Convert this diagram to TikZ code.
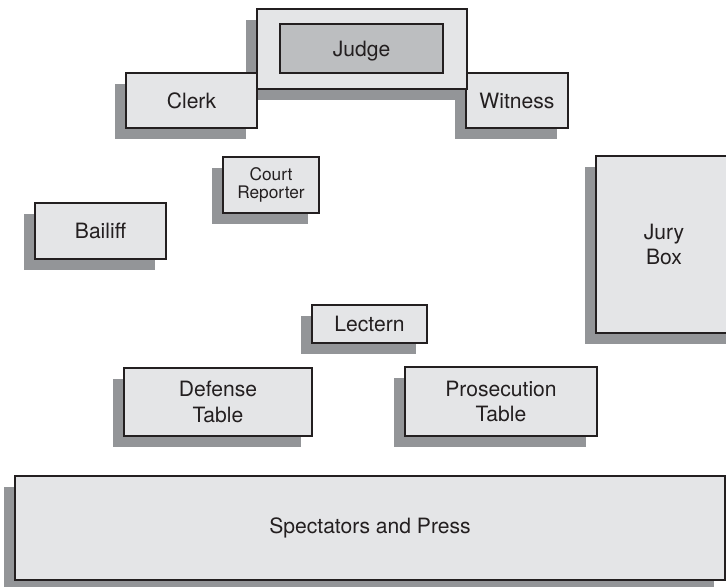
\documentclass[tikz,border=0pt]{standalone}
\usepackage{fontspec}
\setmainfont{TeX Gyre Heros}
\usetikzlibrary{shadows}
\definecolor{boxfill}{HTML}{E4E5E7}
\definecolor{benchfill}{HTML}{BCBEC0}
\definecolor{shadowgray}{HTML}{939598}
\definecolor{ink}{HTML}{231F20}
\tikzstyle{furniture} = [rectangle, draw=ink, line width=1.8pt, fill=boxfill, text=ink, align=center, inner sep=0pt, font=\fontsize{15}{18}\selectfont, drop shadow={shadow xshift=-0.275cm, shadow yshift=-0.275cm, fill=shadowgray, opacity=1}]
\tikzstyle{bench} = [rectangle, draw=ink, line width=1.8pt, fill=benchfill, text=ink, inner sep=0pt, text depth=0pt, font=\fontsize{15}{18}\selectfont]

\begin{document}
\begin{tikzpicture}[x=0.025cm, y=-0.025cm]
\useasboundingbox (0,0) rectangle (726,587);
\clip (0,0) rectangle (726,587);

\node (witness) [furniture, minimum width=102*0.025cm, minimum height=55*0.025cm] at (517,100.5) {Witness};
\node (judgearea) [furniture, minimum width=210*0.025cm, minimum height=80*0.025cm] at (362,49) {};
\node (judge) [bench, minimum width=163*0.025cm, minimum height=49*0.025cm] at (361.5,48.5) {Judge};
\node (clerk) [furniture, minimum width=131*0.025cm, minimum height=55*0.025cm] at (191.5,100.5) {Clerk};
\node (reporter) [furniture, minimum width=96*0.025cm, minimum height=56*0.025cm, font=\fontsize{12.3}{12.8}\selectfont] at (271,185) {Court\\Reporter};
\node (bailiff) [furniture, minimum width=131*0.025cm, minimum height=56*0.025cm] at (100.5,231) {Bailiff};
\node (jury) [furniture, minimum width=180*0.025cm, minimum height=177*0.025cm] at (686,244.5) {\hspace*{-30pt}Jury\\\hspace*{-30pt}Box};
\node (lectern) [furniture, minimum width=115*0.025cm, minimum height=38*0.025cm] at (369.5,324) {Lectern};
\node (defense) [furniture, minimum width=188*0.025cm, minimum height=68*0.025cm] at (218,402) {Defense\\Table};
\node (prosecution) [furniture, minimum width=192*0.025cm, minimum height=69*0.025cm] at (501,401.5) {Prosecution\\Table};
\node (spectators) [furniture, minimum width=710*0.025cm, minimum height=104*0.025cm] at (370,528) {Spectators and Press};
\end{tikzpicture}
\end{document}
